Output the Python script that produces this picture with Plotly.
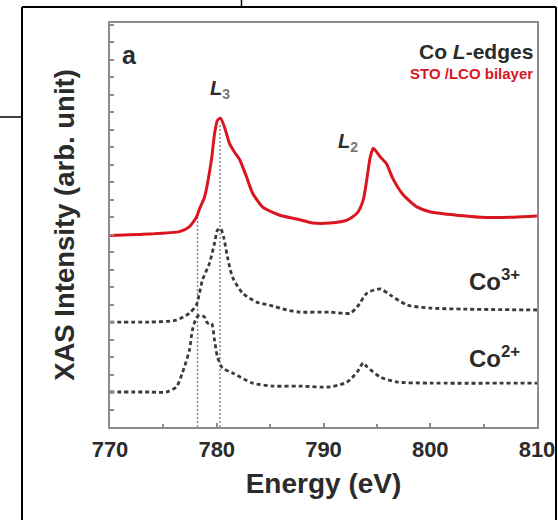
import plotly.graph_objects as go

# ---------------- data ----------------
energy_bilayer = [770.0, 773.6, 776.5, 777.4, 778.1, 778.4, 778.85, 779.5, 779.8, 780.07, 780.35,
                  780.73, 781.2, 781.67, 782.14, 782.8, 783.36, 784.31, 785.91, 787.51, 789.0,
                  790.6, 792.2, 793.15, 793.72, 794.09, 794.38, 794.66, 795.3, 795.9, 796.5,
                  797.48, 798.8, 800.02, 801.62, 804.73, 807.84, 810.0]
xas_bilayer = [10.95, 11.03, 11.17, 11.43, 12.0, 12.5, 13.14, 15.26, 16.8, 17.54, 17.66,
               17.14, 16.2, 15.71, 15.3, 14.29, 13.37, 12.57, 12.11, 11.89, 11.66,
               11.66, 11.83, 12.23, 12.97, 14.29, 15.43, 15.94, 15.45, 15.05, 14.2,
               13.26, 12.57, 12.29, 12.17, 12.0, 12.0, 12.06]

energy_co3 = [770.0, 773.67, 776.21, 777.44, 778.09, 778.38, 778.66, 779.32, 779.79, 780.07,
              780.35, 780.64, 781.01, 781.48, 782.42, 783.74, 784.96, 786.56, 787.79, 790.61,
              792.49, 793.15, 794.09, 795.32, 796.26, 797.86, 800.02, 803.13, 810.0]
xas_co3 = [6.0, 6.0, 6.11, 6.51, 6.97, 7.66, 8.4, 9.37, 10.51, 11.26,
           11.37, 10.86, 9.71, 8.57, 7.66, 7.14, 6.97, 6.69, 6.57, 6.57,
           6.51, 6.86, 7.66, 7.89, 7.54, 6.97, 6.8, 6.74, 6.69]

energy_co2 = [770.0, 773.67, 775.27, 776.21, 776.78, 777.44, 777.72, 778.09, 778.38, 778.85,
              779.13, 779.51, 779.79, 780.07, 780.54, 781.48, 783.36, 785.25, 787.79, 790.61,
              792.21, 793.15, 793.72, 794.09, 795.32, 796.92, 800.02, 810.0]
xas_co2 = [2.0, 2.0, 2.0, 2.29, 3.09, 4.4, 5.54, 6.23, 6.4, 6.29,
           5.94, 5.94, 4.97, 4.0, 3.37, 3.09, 2.51, 2.34, 2.34, 2.29,
           2.57, 3.14, 3.66, 3.43, 2.86, 2.57, 2.51, 2.51]

guide_energies = [778.2, 780.3]
guide_tops = [12.1, 17.4]

x_ticks = [770, 780, 790, 800, 810]
x_tick_labels = ["770", "780", "790", "800", "810"]

# ---------------- layout constants ----------------
W, H = 558, 520
L, R, T, B = 110, 537, 23, 427          # plot area in pixels
FONT = "Liberation Sans, Arial, sans-serif"
DARK = "#2b2b2b"
RED = "#d9161f"
FRAME = "#8c8c8c"


def px(xp):
    return (xp - L) / (R - L)


def py(yp):
    return (B - yp) / (B - T)


fig = go.Figure()

for e, top in zip(guide_energies, guide_tops):
    fig.add_trace(go.Scatter(x=[e, e], y=[0, top], mode="lines",
                             line=dict(color="#8a8a8a", width=1.5, dash="2px,2px"),
                             hoverinfo="skip", showlegend=False))

for ex, ix in ((energy_co3, xas_co3), (energy_co2, xas_co2)):
    fig.add_trace(go.Scatter(x=ex, y=ix, mode="lines", line_shape="spline",
                             line=dict(color="#3a3a3a", width=2.8, dash="4px,3px", smoothing=0.7),
                             showlegend=False))
fig.add_trace(go.Scatter(x=energy_bilayer, y=xas_bilayer, mode="lines", line_shape="spline",
                         line=dict(color=RED, width=3, smoothing=0.6), showlegend=False))

fig.update_xaxes(range=[770, 810], tickmode="array", tickvals=x_ticks, ticktext=x_tick_labels,
                 showline=True, linecolor=FRAME, linewidth=2, mirror=True,
                 ticks="inside", ticklen=4, tickcolor=FRAME, tickwidth=1.5,
                 minor=dict(dtick=5, ticks="inside", ticklen=3, tickcolor=FRAME),
                 showgrid=False, zeroline=False, automargin=False,
                 tickfont=dict(family=FONT, size=22, color=DARK, weight="bold"),
                 ticklabelstandoff=2,
                 title=dict(text="Energy (eV)", standoff=12,
                            font=dict(family=FONT, size=28, color=DARK, weight="bold")))
fig.update_yaxes(range=[0, 23.1], dtick=1, showticklabels=False,
                 showline=True, linecolor=FRAME, linewidth=2, mirror=True,
                 ticks="inside", ticklen=4, tickcolor=FRAME, tickwidth=1.5,
                 showgrid=False, zeroline=False, automargin=False,
                 title=dict(text="XAS Intensity (arb. unit)", standoff=25,
                            font=dict(family=FONT, size=27.5, color=DARK, weight="bold")))

ann = []


def add_text(text, xp, yp, size, color=DARK, xanchor="center", bold=True):
    ann.append(dict(text=text, x=px(xp), y=py(yp), xref="paper", yref="paper",
                    xanchor=xanchor, yanchor="middle", showarrow=False,
                    font=dict(family=FONT, size=size, color=color,
                              weight="bold" if bold else "normal")))


add_text("a", 129, 55, 25)
add_text("Co <i>L</i>-edges", 535, 52, 21, xanchor="right")
add_text("STO /LCO bilayer", 535, 73, 15, color=RED, xanchor="right")
add_text("<i>L</i><sub><span style='color:#777777'>3</span></sub>", 220, 89, 20)
add_text("<i>L</i><sub><span style='color:#777777'>2</span></sub>", 348, 142, 20)
add_text("Co<sup>3+</sup>", 467, 280, 24, xanchor="left")
add_text("Co<sup>2+</sup>", 467, 357, 24, xanchor="left")

shapes = [
    # outer black frame (left, top, right)
    dict(type="line", xref="paper", yref="paper", x0=px(22), x1=px(22), y0=py(7), y1=py(530),
         line=dict(color="black", width=2)),
    dict(type="line", xref="paper", yref="paper", x0=px(22), x1=px(556), y0=py(7), y1=py(7),
         line=dict(color="black", width=2)),
    dict(type="line", xref="paper", yref="paper", x0=px(556), x1=px(556), y0=py(7), y1=py(530),
         line=dict(color="black", width=2)),
    # stray fragments
    dict(type="line", xref="paper", yref="paper", x0=px(241.5), x1=px(241.5), y0=py(-2), y1=py(7),
         line=dict(color="black", width=1.5)),
    dict(type="line", xref="paper", yref="paper", x0=px(-2), x1=px(22), y0=py(117), y1=py(117),
         line=dict(color="black", width=1.5)),
]

fig.update_layout(width=W, height=H,
                  margin=dict(l=L, r=W - R, t=T, b=H - B, pad=0, autoexpand=False),
                  plot_bgcolor="white", paper_bgcolor="white",
                  annotations=ann, shapes=shapes, showlegend=False)

fig.write_html("out.html", config={"displayModeBar": False},
               post_script="document.body.style.margin='0px';document.body.style.padding='0px';"
                           "document.body.style.overflow='hidden';")
